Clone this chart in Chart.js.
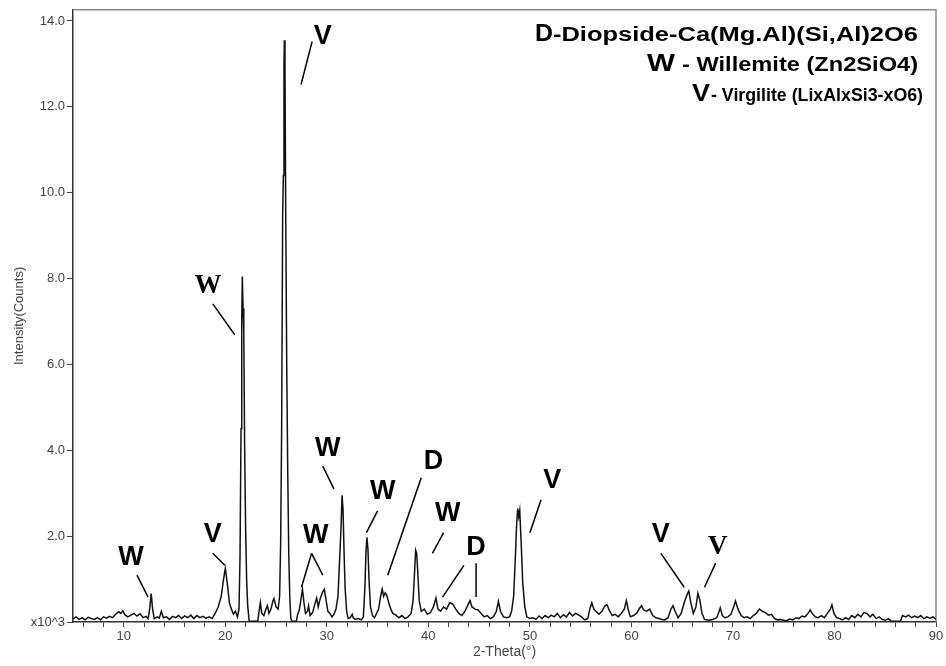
<!DOCTYPE html>
<html>
<head>
<meta charset="utf-8">
<script src="https://cdn.jsdelivr.net/npm/chart.js@4.4.0/dist/chart.umd.min.js"></script>
<style>
  html, body { margin: 0; padding: 0; background: #fff; }
</style>
</head>
<body>
<canvas id="xrd" width="946" height="666"></canvas>
<script>
// 2-theta (deg)
var twoTheta = [
  5.0, 5.3, 5.6, 5.9, 6.2, 6.5, 6.8, 7.1, 7.4, 7.7, 8.0, 8.3, 8.6, 8.9, 9.2, 9.5, 9.7, 9.9,
  10.1, 10.4, 10.7, 11.0, 11.3, 11.6, 11.9, 12.2, 12.4, 12.55, 12.7, 12.85, 13.0, 13.3, 13.5, 13.7, 13.9,
  14.2, 14.5, 14.8, 15.1, 15.4, 15.7, 16.0, 16.3, 16.6, 16.9, 17.2, 17.5, 17.8, 18.1, 18.4, 18.7,
  19.0, 19.3, 19.6, 19.8, 20.0, 20.2, 20.4, 20.6, 20.8, 21.0, 21.2, 21.35, 21.45, 21.55, 21.62, 21.68,
  21.75, 21.82, 21.9, 22.0, 22.1, 22.2, 22.35, 23.2, 23.3, 23.45, 23.6, 23.8, 24.0, 24.15, 24.3, 24.5,
  24.7, 24.8, 25.0, 25.2, 25.35, 25.45, 25.55, 25.65, 25.72, 25.78, 25.82, 25.88, 25.95, 26.05, 26.15,
  26.25, 26.35, 26.45, 26.55, 27.0, 27.1, 27.3, 27.5, 27.6, 27.75, 27.9, 28.1, 28.2, 28.35, 28.6, 28.8,
  29.0, 29.15, 29.35, 29.6, 29.75, 29.9, 30.1, 30.3, 30.5, 30.7, 30.9, 31.1, 31.25, 31.4, 31.5, 31.6,
  31.7, 31.8, 31.95, 32.1, 32.3, 32.5, 32.6, 32.8, 33.1, 33.4, 33.6, 33.75, 33.85, 33.95, 34.05, 34.15,
  34.3, 34.5, 34.7, 34.9, 35.1, 35.3, 35.45, 35.6, 35.75, 35.9, 36.1, 36.3, 36.5, 36.8, 37.1, 37.4,
  37.7, 38.0, 38.3, 38.5, 38.65, 38.75, 38.85, 38.95, 39.1, 39.3, 39.6, 39.9, 40.2, 40.5, 40.75, 40.95,
  41.2, 41.5, 41.8, 42.1, 42.4, 42.7, 43.0, 43.3, 43.6, 43.9, 44.1, 44.3, 44.6, 44.9, 45.2, 45.5, 45.8,
  46.1, 46.4, 46.7, 46.9, 47.1, 47.4, 47.7, 48.0, 48.2, 48.4, 48.55, 48.7, 48.8, 48.9, 49.0, 49.15,
  49.3, 49.5, 49.7, 50.0, 50.3, 50.6, 50.9, 51.2, 51.5, 51.8, 52.1, 52.4, 52.7, 53.0, 53.3, 53.6, 53.9,
  54.2, 54.5, 54.8, 55.1, 55.4, 55.7, 55.9, 56.1, 56.3, 56.5, 56.8, 57.1, 57.4, 57.6, 57.8, 58.1, 58.4,
  58.7, 59.0, 59.3, 59.5, 59.7, 59.9, 60.2, 60.5, 60.8, 61.0, 61.2, 61.5, 61.8, 62.1, 62.4, 62.7, 63.0,
  63.3, 63.6, 63.9, 64.1, 64.3, 64.6, 64.9, 65.2, 65.5, 65.65, 65.85, 66.1, 66.35, 66.55, 66.75, 66.95,
  67.2, 67.6, 68.0, 68.4, 68.6, 68.75, 68.95, 69.2, 69.5, 69.8, 70.0, 70.25, 70.5, 70.8, 71.1, 71.4,
  71.7, 72.0, 72.3, 72.6, 72.9, 73.2, 73.5, 73.8, 74.1, 74.4, 74.7, 75.0, 75.3, 75.6, 75.9, 76.2, 76.5,
  76.8, 77.1, 77.4, 77.6, 77.8, 78.1, 78.4, 78.7, 79.0, 79.3, 79.6, 79.75, 79.95, 80.2, 80.5, 80.8,
  81.1, 81.4, 81.7, 82.0, 82.3, 82.6, 82.9, 83.2, 83.5, 83.8, 84.1, 84.4, 84.7, 85.0, 85.3, 85.6, 85.9,
  86.5, 86.7, 87.0, 87.3, 87.6, 87.9, 88.2, 88.5, 88.8, 89.1, 89.4, 89.7, 90.0
];
// intensity (x10^3 counts)
var counts = [
  0.07, 0.12, 0.06, 0.10, 0.05, 0.11, 0.08, 0.06, 0.10, 0.05, 0.12, 0.09, 0.13, 0.10, 0.18, 0.24, 0.20, 0.26,
  0.17, 0.12, 0.16, 0.20, 0.14, 0.19, 0.10, 0.13, 0.08, 0.30, 0.66, 0.28, 0.08, 0.12, 0.09, 0.25, 0.10,
  0.12, 0.06, 0.13, 0.10, 0.15, 0.08, 0.14, 0.10, 0.16, 0.08, 0.15, 0.10, 0.13, 0.09, 0.12, 0.08,
  0.20, 0.35, 0.60, 0.95, 1.25, 0.90, 0.45, 0.30, 0.18, 0.25, 0.12, 0.30, 1.50, 4.50, 7.00, 8.05,
  7.30, 6.80, 4.20, 2.20, 1.00, 0.40, 0.02, 0.02, 0.20, 0.45, 0.20, 0.15, 0.30, 0.38, 0.20, 0.30,
  0.50, 0.55, 0.35, 0.30, 0.60, 1.80, 4.50, 9.50, 10.40, 13.00, 13.55, 12.90, 9.60, 6.00, 3.50,
  1.60, 0.60, 0.10, 0.02, 0.02, 0.15, 0.30, 0.60, 0.76, 0.45, 0.20, 0.25, 0.38, 0.15, 0.22, 0.40,
  0.56, 0.35, 0.55, 0.70, 0.76, 0.55, 0.25, 0.20, 0.12, 0.18, 0.30, 0.60, 1.40, 2.20, 2.95, 2.60,
  1.60, 0.80, 0.25, 0.08, 0.10, 0.18, 0.10, 0.06, 0.08, 0.05, 0.12, 0.80, 1.60, 1.97, 1.70, 1.00,
  0.35, 0.15, 0.10, 0.20, 0.30, 0.60, 0.77, 0.60, 0.68, 0.62, 0.45, 0.30, 0.20, 0.16, 0.10, 0.15,
  0.08, 0.12, 0.20, 0.50, 1.20, 1.67, 1.60, 1.20, 0.50, 0.25, 0.30, 0.18, 0.22, 0.35, 0.56, 0.30,
  0.25, 0.35, 0.30, 0.45, 0.42, 0.30, 0.20, 0.15, 0.25, 0.40, 0.50, 0.35, 0.30, 0.28, 0.20, 0.12, 0.15,
  0.08, 0.12, 0.25, 0.48, 0.25, 0.12, 0.10, 0.12, 0.25, 0.60, 1.40, 2.30, 2.64, 2.45, 2.60, 1.80,
  0.90, 0.35, 0.12, 0.08, 0.10, 0.06, 0.14, 0.08, 0.15, 0.10, 0.16, 0.12, 0.20, 0.10, 0.17, 0.12, 0.22,
  0.14, 0.20, 0.16, 0.12, 0.05, 0.08, 0.30, 0.45, 0.30, 0.25, 0.18, 0.25, 0.38, 0.40, 0.28, 0.15, 0.18,
  0.12, 0.20, 0.30, 0.50, 0.28, 0.12, 0.15, 0.20, 0.32, 0.38, 0.28, 0.25, 0.30, 0.15, 0.10, 0.08, 0.06,
  0.05, 0.10, 0.30, 0.38, 0.25, 0.10, 0.20, 0.45, 0.65, 0.72, 0.45, 0.20, 0.35, 0.67, 0.50, 0.20,
  0.06, 0.04, 0.06, 0.10, 0.22, 0.33, 0.15, 0.10, 0.12, 0.18, 0.30, 0.49, 0.30, 0.15, 0.10, 0.12,
  0.08, 0.15, 0.20, 0.30, 0.25, 0.22, 0.16, 0.18, 0.08, 0.05, 0.06, 0.04, 0.03, 0.07, 0.05, 0.10, 0.08,
  0.14, 0.12, 0.20, 0.28, 0.20, 0.12, 0.10, 0.15, 0.10, 0.20, 0.30, 0.40, 0.20, 0.10, 0.08, 0.05,
  0.10, 0.06, 0.15, 0.10, 0.18, 0.12, 0.22, 0.20, 0.12, 0.18, 0.08, 0.12, 0.06, 0.04, 0.08, 0.02, 0.02,
  0.02, 0.15, 0.12, 0.16, 0.10, 0.14, 0.10, 0.15, 0.08, 0.12, 0.09, 0.12, 0.06
];

var xTicks = [6, 8, 10, 12, 14, 16, 18, 20, 22, 24, 26, 28, 30, 32, 34, 36, 38, 40, 42, 44, 46, 48,
  50, 52, 54, 56, 58, 60, 62, 64, 66, 68, 70, 72, 74, 76, 78, 80, 82, 84, 86, 88, 90];
var yTicks = [0, 2, 4, 6, 8, 10, 12, 14];
var yTickLabels = ["x10^3", "2.0", "4.0", "6.0", "8.0", "10.0", "12.0", "14.0"];

var phaseLetters = ["D", "W", "V"];
var phaseNames = ["-Diopside-Ca(Mg.Al)(Si,Al)2O6", "- Willemite (Zn2SiO4)", "- Virgilite (LixAlxSi3-xO6)"];

// peak letters with leader lines, in data units
var marks = [
  { t: "W", x: 10.7, y: 1.53, lines: [[11.3, 1.09, 12.4, 0.58]] },
  { t: "V", x: 18.77, y: 2.06, lines: [[18.77, 1.6, 19.95, 1.32]] },
  { t: "W", x: 18.3, y: 7.85, serif: true, lines: [[18.77, 7.41, 20.93, 6.69]] },
  { t: "V", x: 29.6, y: 13.66, lines: [[28.55, 13.52, 27.46, 12.52]] },
  { t: "W", x: 28.9, y: 2.04, lines: [[28.5, 1.6, 27.5, 0.81], [28.5, 1.6, 29.6, 1.09]] },
  { t: "W", x: 30.1, y: 4.07, lines: [[29.6, 3.63, 30.7, 3.1]] },
  { t: "W", x: 35.5, y: 3.06, lines: [[35.0, 2.59, 33.9, 2.08]] },
  { t: "D", x: 40.5, y: 3.77, lines: [[39.3, 3.36, 36.0, 1.09]] },
  { t: "W", x: 41.9, y: 2.55, lines: [[41.5, 2.08, 40.4, 1.6]] },
  { t: "D", x: 44.7, y: 1.76, lines: [[43.5, 1.32, 41.4, 0.58], [44.7, 1.37, 44.7, 0.58]] },
  { t: "V", x: 52.2, y: 3.31, lines: [[51.1, 2.85, 50.0, 2.08]] },
  { t: "V", x: 62.9, y: 2.06, lines: [[62.9, 1.6, 65.2, 0.81]] },
  { t: "V", x: 68.5, y: 1.76, serif: true, lines: [[68.3, 1.37, 67.2, 0.81]] }
];

var points = twoTheta.map(function (x, i) { return { x: x, y: counts[i] }; });

// draws text so that it spans w pixels starting at x
function stretchText(ctx, txt, x, y, w) {
  var natural = ctx.measureText(txt).width;
  ctx.save();
  ctx.translate(x, y);
  ctx.scale(w / natural, 1);
  ctx.fillText(txt, 0, 0);
  ctx.restore();
}

var decorations = {
  id: "decorations",
  beforeDatasetsDraw: function (chart) {
    var ctx = chart.ctx, a = chart.chartArea;
    ctx.save();
    ctx.strokeStyle = "#8a8a8a";
    ctx.lineWidth = 1.5;
    ctx.beginPath();
    ctx.moveTo(a.left, a.top);
    ctx.lineTo(a.right, a.top);
    ctx.lineTo(a.right, a.bottom);
    ctx.stroke();
    ctx.restore();
  },
  afterDraw: function (chart) {
    var ctx = chart.ctx, xs = chart.scales.x, ys = chart.scales.y;
    ctx.save();
    // peak letters
    ctx.strokeStyle = "#000";
    ctx.lineWidth = 1.5;
    ctx.fillStyle = "#000";
    ctx.textAlign = "center";
    ctx.textBaseline = "middle";
    marks.forEach(function (m) {
      m.lines.forEach(function (l) {
        ctx.beginPath();
        ctx.moveTo(xs.getPixelForValue(l[0]), ys.getPixelForValue(l[1]));
        ctx.lineTo(xs.getPixelForValue(l[2]), ys.getPixelForValue(l[3]));
        ctx.stroke();
      });
      ctx.font = m.serif ? "bold 27px 'Liberation Serif'" : "bold 27px 'Liberation Sans'";
      ctx.fillText(m.t, xs.getPixelForValue(m.x), ys.getPixelForValue(m.y) + 1);
    });
    // phase key: letter start, letter width, name start, name end, baseline, name font size
    var key = [[535, 18, 553, 918, 41, 20], [647, 28, 682, 918, 71, 20], [692, 18, 711, 923, 101, 19]];
    ctx.textAlign = "left";
    ctx.textBaseline = "alphabetic";
    for (var i = 0; i < phaseLetters.length; i++) {
      var k = key[i];
      ctx.font = "bold 23px 'Liberation Sans'";
      stretchText(ctx, phaseLetters[i], k[0], k[4], k[1]);
      ctx.font = "bold " + k[5] + "px 'Liberation Sans'";
      stretchText(ctx, phaseNames[i], k[2], k[4], k[3] - k[2]);
    }
    ctx.restore();
  }
};

new Chart(document.getElementById("xrd").getContext("2d"), {
  type: "line",
  data: {
    datasets: [{
      data: points,
      borderColor: "#111",
      borderWidth: 1.5,
      pointRadius: 0,
      tension: 0,
      fill: false
    }]
  },
  options: {
    responsive: false,
    animation: false,
    layout: { padding: { top: 8, right: 10, left: 0, bottom: 0 } },
    plugins: { legend: { display: false }, tooltip: { enabled: false } },
    scales: {
      x: {
        type: "linear",
        min: 5,
        max: 90,
        afterBuildTicks: function (s) { s.ticks = xTicks.map(function (v) { return { value: v }; }); },
        afterFit: function (s) { s.height = 44; },
        grid: { drawOnChartArea: false, drawTicks: true, tickLength: 5, color: "#444" },
        border: { display: true, color: "#333", width: 1.5 },
        ticks: {
          autoSkip: false,
          maxRotation: 0,
          padding: 2,
          color: "#444",
          font: { family: "'Liberation Sans'", size: 13 },
          callback: function (v) { return v % 10 === 0 ? String(v) : ""; }
        },
        title: {
          display: true,
          text: "2-Theta(°)",
          color: "#444",
          font: { family: "'Liberation Sans'", size: 14 },
          padding: { top: 0, bottom: 5 }
        }
      },
      y: {
        min: 0,
        max: 14.26,
        afterBuildTicks: function (s) { s.ticks = yTicks.map(function (v) { return { value: v }; }); },
        afterFit: function (s) { s.width = 73; },
        grid: { drawOnChartArea: false, drawTicks: true, tickLength: 6, color: "#444" },
        border: { display: true, color: "#333", width: 1.5 },
        ticks: {
          padding: 2,
          color: "#444",
          font: { family: "'Liberation Sans'", size: 13 },
          callback: function (v) { return yTickLabels[yTicks.indexOf(v)]; }
        },
        title: {
          display: true,
          text: "Intensity(Counts)",
          color: "#444",
          font: { family: "'Liberation Sans'", size: 13 },
          padding: { top: 12, bottom: 0 }
        }
      }
    }
  },
  plugins: [decorations]
});
</script>
</body>
</html>
